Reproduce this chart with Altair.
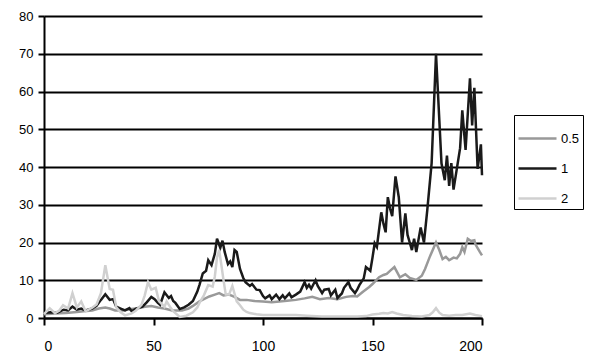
import altair as alt
import pandas as pd

# series "1" (black)
x_1 = [0, 3, 6, 9, 11, 13, 15, 17, 19, 22, 24, 26, 28, 30, 31.5, 33, 35, 37, 39, 40, 42, 45, 47, 49, 50.5,
       52, 53, 55, 57, 58, 59, 60, 62, 64, 66, 68, 70, 71, 72.5, 74, 75, 76.5, 78, 79, 80.5, 81.5, 82.5,
       84, 85, 86, 87, 88, 89.5, 91, 92, 94, 95, 97, 98.5, 100, 101, 103, 104, 106, 107.5, 109, 110, 112,
       113, 115, 117, 119, 120, 121, 122, 124, 125, 127, 128, 130, 131, 133, 134, 136, 137, 139, 140, 142,
       143, 144, 146, 147, 149, 150, 151, 152, 154, 155, 156, 157, 158, 159, 160.5, 162, 163.5, 165, 166,
       167, 168, 169, 170, 172, 173.5, 175, 177, 179, 181.5, 183, 184, 185, 186, 187, 188.5, 190, 191,
       192.5, 194.5, 195.5, 196.5, 198, 199.5, 200]
y_1 = [1.3, 1.5, 1.4, 2.2, 2.0, 3.0, 2.2, 2.5, 2.0, 2.5, 3.2, 4.8, 6.3, 4.8, 5.0, 3.0, 2.5, 2.0, 2.6, 1.8, 2.5,
       3.0, 4.2, 5.6, 5.0, 4.0, 3.5, 6.8, 5.3, 5.8, 4.5, 4.0, 2.4, 2.8, 3.5, 4.5, 7.0, 8.8, 11.8, 12.5, 15.3,
       14.0, 17.0, 21.0, 18.6, 20.5, 17.5, 14.3, 15.0, 13.5, 18.0, 17.5, 13.0, 10.6, 9.5, 8.5, 9.0, 7.5, 7.4,
       5.8, 5.2, 6.0, 5.0, 6.2, 5.0, 6.0, 5.2, 6.5, 5.5, 6.2, 7.0, 9.5, 8.0, 8.8, 7.8, 10.0, 8.5, 6.6, 7.5,
       7.7, 6.0, 7.5, 5.3, 6.5, 8.0, 9.5, 8.0, 6.6, 7.5, 8.7, 10.5, 13.5, 12.5, 16.0, 19.8, 18.8, 28.0, 25.0,
       22.7, 32.0, 29.0, 27.0, 37.5, 32.0, 20.0, 27.7, 22.0, 20.0, 18.0, 21.0, 17.5, 24.0, 20.0, 28.5, 41.0,
       70.0, 41.0, 36.5, 43.0, 35.0, 41.0, 34.0, 39.5, 45.0, 55.0, 44.5, 63.5, 51.0, 61.0, 39.5, 46.0, 37.8]

# series "0.5" (mid grey)
x_05 = [0, 5, 10, 15, 18, 22, 25, 28, 30, 32.5, 36, 40, 43, 46, 49, 52, 55, 58.5, 63, 66, 68, 71, 73, 75.5,
        78, 80, 82, 84.5, 87, 89.5, 92.5, 96, 100, 104, 107.5, 111, 115, 119, 122.5, 126, 130, 134, 138,
        141, 143, 145.5, 148.5, 150, 153, 155, 156.5, 158, 160, 162.5, 165, 167, 170, 172.5, 174, 176, 179,
        180.5, 182, 183.5, 185, 187, 188.5, 190, 191, 192, 193.5, 195, 196.5, 197, 198, 199, 200]
y_05 = [1.0, 1.2, 1.3, 1.6, 1.8, 2.0, 2.5, 2.8, 2.5, 2.0, 2.0, 2.4, 2.6, 3.0, 3.2, 2.8, 2.5, 2.0, 2.0, 2.5,
        3.2, 4.4, 5.0, 5.7, 6.2, 6.6, 6.0, 6.2, 5.6, 4.8, 4.8, 4.5, 4.4, 4.2, 4.4, 4.6, 4.8, 5.2, 5.6, 5.0,
        5.3, 5.0, 5.6, 5.8, 5.7, 6.9, 8.2, 9.0, 10.8, 11.4, 11.7, 12.5, 13.5, 10.8, 11.6, 10.6, 10.1, 11.2,
        13.0, 16.0, 20.0, 18.0, 15.6, 16.2, 15.3, 16.0, 15.8, 17.0, 18.8, 17.5, 21.0, 20.4, 20.6, 19.5, 18.5,
        17.5, 16.6]

# series "2" (light grey)
x_2 = [0, 2.6, 5, 7, 8.7, 11, 13, 15, 17, 19, 22, 24, 26, 28, 30, 31.5, 33, 35, 37, 40, 42, 44.5, 46, 47.5,
       49, 51, 52.5, 55, 56, 57.5, 59, 62, 65, 68, 70, 71, 73, 75, 77, 78, 79, 80, 81, 82, 83, 84.5, 86, 88,
       89.5, 91, 92.5, 94, 97, 100, 105, 110, 115, 120, 127, 133, 138, 143, 147, 150, 153, 155, 157, 159,
       161, 164, 168, 172.5, 176, 177.5, 179, 180.5, 182, 185, 188, 191, 194.5, 197, 200]
y_2 = [1.0, 2.6, 1.3, 2.0, 3.4, 2.5, 6.6, 2.8, 4.4, 1.8, 2.7, 3.6, 6.6, 14.0, 7.7, 7.5, 2.8, 1.5, 0.7, 1.2,
       2.0, 3.5, 6.0, 9.5, 7.5, 8.0, 4.5, 3.0, 4.4, 3.0, 1.8, 0.3, 0.6, 1.5, 2.8, 4.0, 6.0, 8.7, 8.3, 11.0,
       16.0, 18.0, 14.0, 9.9, 6.2, 6.2, 8.5, 4.4, 3.4, 2.2, 1.6, 1.3, 1.0, 0.8, 0.8, 0.8, 0.8, 0.6, 0.4, 0.4,
       0.4, 0.4, 0.5, 0.9, 1.1, 1.3, 1.2, 1.6, 1.2, 0.8, 0.5, 0.4, 0.8, 1.5, 2.6, 1.4, 0.8, 0.6, 0.8, 0.8,
       1.2, 0.8, 0.5]

series_names = ["0.5", "1", "2"]
series_colors = ["#999999", "#1a1a1a", "#d0d0d0"]
x_ticks = [0, 50, 100, 150, 200]
y_ticks = [0, 10, 20, 30, 40, 50, 60, 70, 80]

rows = []
for name, xs, ys in [("0.5", x_05, y_05), ("1", x_1, y_1), ("2", x_2, y_2)]:
    for i, (xv, yv) in enumerate(zip(xs, ys)):
        rows.append({"series": name, "x": xv, "y": yv, "i": i})
df = pd.DataFrame(rows)

font = "Liberation Sans"

chart = alt.Chart(df).mark_line(strokeWidth=2.5).encode(
    x=alt.X("x:Q", scale=alt.Scale(domain=[0, 200], nice=False),
            axis=alt.Axis(values=x_ticks, grid=False, title=None, tickSize=7, tickWidth=2,
                          tickColor="black", domainColor="black", domainWidth=2,
                          labelFont=font, labelFontSize=14, labelColor="black", labelPadding=14)),
    y=alt.Y("y:Q", scale=alt.Scale(domain=[0, 80], nice=False),
            axis=alt.Axis(values=y_ticks, grid=True, gridColor="black", gridWidth=2, gridOpacity=1,
                          title=None, tickSize=6, tickWidth=2, tickColor="black",
                          domainColor="black", domainWidth=2,
                          labelFont=font, labelFontSize=13, labelColor="black", labelPadding=5)),
    color=alt.Color("series:N", scale=alt.Scale(domain=series_names, range=series_colors),
                    legend=alt.Legend(title=None, orient="none", legendX=470, legendY=99,
                                      symbolType="stroke", symbolSize=1444, symbolStrokeWidth=2.5,
                                      labelFont=font, labelFontSize=13, labelColor="black",
                                      labelOffset=3, rowPadding=2, padding=3,
                                      strokeColor="black", fillColor="white")),
    order="i:Q",
).properties(
    width=438, height=302,
    autosize=alt.AutoSizeParams(type="none"),
    padding={"left": 36, "top": 8, "right": 103, "bottom": 35},
).configure_view(stroke=None)

chart.save("out.html", embed_options={"renderer": "svg", "actions": False})
